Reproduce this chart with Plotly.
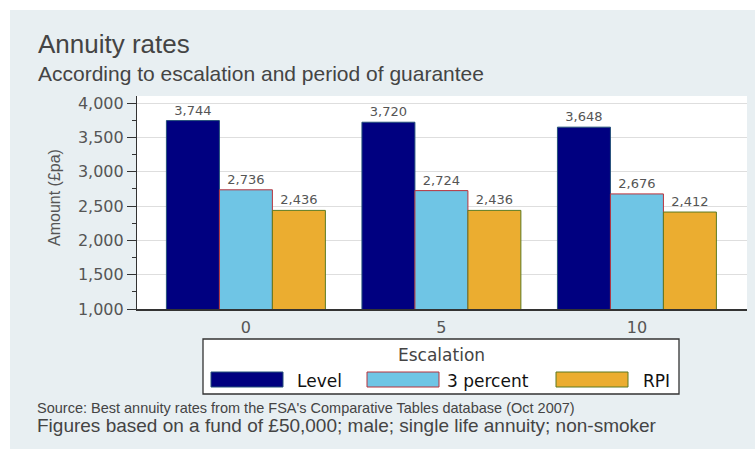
import plotly.graph_objects as go

# ---- data ----
categories = ["0", "5", "10"]
series_names = ["Level", "3 percent", "RPI"]
level_vals = [3744, 3720, 3648]
pct3_vals = [2736, 2724, 2676]
rpi_vals = [2436, 2436, 2412]
y_ticks = [1000, 1500, 2000, 2500, 3000, 3500, 4000]

fills = ["#000080", "#6fc5e5", "#ebad30"]
edges = ["#24507a", "#b8323c", "#5d7a22"]
BG = "#e8eff2"
W_FIG, H_FIG = 755, 449
L, R, T, B = 137, 747, 96, 309
PW, PH = R - L, B - T


def px(x):
    return (x - L) / PW


def py(y):
    return (B - y) / PH


fig = go.Figure()
for name, vals, fc, ec in zip(series_names, [level_vals, pct3_vals, rpi_vals], fills, edges):
    fig.add_trace(go.Bar(
        x=categories, y=vals, name=name,
        marker=dict(color=fc, line=dict(color=ec, width=1)),
        texttemplate="%{y:,}", textposition="outside",
        textfont=dict(family="DejaVu Sans", size=13, color="#555555"),
        cliponaxis=False, showlegend=False,
    ))

shapes = [
    # white outer margins
    dict(type="rect", xref="paper", yref="paper", x0=px(0), x1=px(W_FIG), y0=py(10), y1=py(0),
         fillcolor="white", line=dict(width=0), layer="above"),
    dict(type="rect", xref="paper", yref="paper", x0=px(0), x1=px(10), y0=py(H_FIG), y1=py(0),
         fillcolor="white", line=dict(width=0), layer="above"),
    # legend box
    dict(type="rect", xref="paper", yref="paper", x0=px(203), x1=px(679), y0=py(394), y1=py(339),
         fillcolor="white", line=dict(color="#333333", width=1.3), layer="above"),
]
annotations = []
sw_x = [211, 367, 556]
txt_x = [295, 445, 641]
for i, name in enumerate(series_names):
    shapes.append(dict(type="rect", xref="paper", yref="paper",
                       x0=px(sw_x[i]), x1=px(sw_x[i] + 72), y0=py(387), y1=py(372),
                       fillcolor=fills[i], line=dict(color=edges[i], width=1), layer="above"))
    annotations.append(dict(text=name, xref="paper", yref="paper", x=px(txt_x[i]), y=py(381),
                            xanchor="left", yanchor="middle", showarrow=False,
                            font=dict(family="DejaVu Sans", size=17, color="#111111")))
annotations.append(dict(text="Escalation", xref="paper", yref="paper", x=px(441), y=py(355),
                        xanchor="center", yanchor="middle", showarrow=False,
                        font=dict(family="DejaVu Sans", size=17, color="#444444")))

# titles and notes
annotations += [
    dict(text="Annuity rates", xref="paper", yref="paper", x=px(36), y=py(44),
         xanchor="left", yanchor="middle", showarrow=False,
         font=dict(family="Liberation Sans, Arial", size=26, color="#444444")),
    dict(text="According to escalation and period of guarantee", xref="paper", yref="paper",
         x=px(36), y=py(73), xanchor="left", yanchor="middle", showarrow=False,
         font=dict(family="Liberation Sans, Arial", size=21, color="#444444")),
    dict(text="Amount (£pa)", xref="paper", yref="paper", x=px(54), y=py(198),
         xanchor="center", yanchor="middle", textangle=-90, showarrow=False,
         font=dict(family="Liberation Sans, Arial", size=16, color="#555555")),
    dict(text="Source: Best annuity rates from the FSA's Comparative Tables database (Oct 2007)",
         xref="paper", yref="paper", x=px(35), y=py(408), xanchor="left", yanchor="middle",
         showarrow=False, font=dict(family="Liberation Sans, Arial", size=14.5, color="#444444")),
    dict(text="Figures based on a fund of £50,000; male; single life annuity; non-smoker",
         xref="paper", yref="paper", x=px(35), y=py(425), xanchor="left", yanchor="middle",
         showarrow=False, font=dict(family="Liberation Sans, Arial", size=19, color="#444444")),
]

fig.update_layout(
    width=W_FIG, height=H_FIG,
    margin=dict(l=L, r=W_FIG - R, t=T, b=H_FIG - B, pad=0),
    paper_bgcolor=BG, plot_bgcolor="white",
    barmode="group", bargap=0.187, bargroupgap=0,
    shapes=shapes, annotations=annotations,
    xaxis=dict(type="category", range=[-0.557, 2.563], showgrid=False,
               showline=True, linecolor="#333333", linewidth=1.5,
               ticks="", ticklabelstandoff=3,
               tickfont=dict(family="DejaVu Sans", size=16, color="#555555")),
    yaxis=dict(range=[1000, 4102], tickvals=y_ticks, tickformat=",",
               showgrid=True, gridcolor="#dedede", gridwidth=1,
               showline=True, linecolor="#333333", linewidth=1.2,
               ticks="outside", ticklen=9, tickcolor="#333333", tickwidth=1.2,
               minor=dict(tickvals=[1250, 1750, 2250, 2750, 3250, 3750], ticks="outside",
                          ticklen=4, tickcolor="#333333", showgrid=False),
               zeroline=False,
               tickfont=dict(family="DejaVu Sans", size=16, color="#555555")),
)

fig.write_html("out.html")
